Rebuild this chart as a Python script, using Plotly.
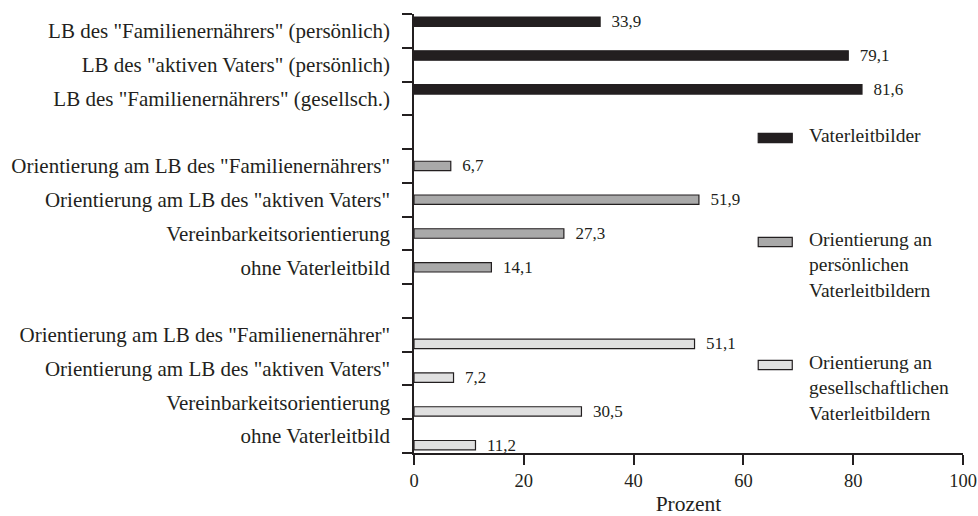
import plotly.graph_objects as go

# ---- data ----
labels = [
    'LB des "Familienernährers" (persönlich)',
    'LB des "aktiven Vaters" (persönlich)',
    'LB des "Familienernährers" (gesellsch.)',
    '',
    'Orientierung am LB des "Familienernährers"',
    'Orientierung am LB des "aktiven Vaters"',
    'Vereinbarkeitsorientierung',
    'ohne Vaterleitbild',
    '',
    'Orientierung am LB des "Familienernährer"',
    'Orientierung am LB des "aktiven Vaters"',
    'Vereinbarkeitsorientierung',
    'ohne Vaterleitbild',
]
pos_leitbilder = [0, 1, 2]
val_leitbilder = [33.9, 79.1, 81.6]
pos_persoenlich = [4, 5, 6, 7]
val_persoenlich = [6.7, 51.9, 27.3, 14.1]
pos_gesellschaft = [9, 10, 11, 12]
val_gesellschaft = [51.1, 7.2, 30.5, 11.2]
series_names = ["Vaterleitbilder",
                "Orientierung an<br>persönlichen<br>Vaterleitbildern",
                "Orientierung an<br>gesellschaftlichen<br>Vaterleitbildern"]
x_ticks = [0, 20, 40, 60, 80, 100]

FONT = "Liberation Serif, Times New Roman, serif"
TXT = "#231f20"
colors = ["#231f20", "#a9a9a9", "#e0e0e0"]
offsets = [-0.41, -0.14, 0.13]
BW = 0.28


def fmt(v):
    return "\u00a0\u00a0" + f"{v:.1f}".replace(".", ",")


fig = go.Figure()
for pos, vals, col, off, name in zip(
        [pos_leitbilder, pos_persoenlich, pos_gesellschaft],
        [val_leitbilder, val_persoenlich, val_gesellschaft],
        colors, offsets, series_names):
    fig.add_trace(go.Bar(
        x=vals, y=pos, orientation="h", name=name,
        offset=off, width=BW,
        marker=dict(color=col, line=dict(color="#231f20", width=1.2)),
        text=[fmt(v) for v in vals], textposition="outside",
        constraintext="none",
        outsidetextfont=dict(family=FONT, size=17, color=TXT),
        textfont=dict(family=FONT, size=17, color=TXT),
        cliponaxis=False, showlegend=False, hoverinfo="x+y",
    ))

fig.update_layout(
    width=978, height=516,
    margin=dict(l=414, r=15, t=14, b=63),
    plot_bgcolor="white", paper_bgcolor="white",
    barmode="overlay",
    font=dict(family=FONT, size=18, color=TXT),
    xaxis=dict(range=[0, 100], tickvals=x_ticks, ticks="outside", ticklen=10,
               tickwidth=1.5, tickcolor=TXT, showline=True, linecolor=TXT,
               linewidth=1.5, showgrid=False, zeroline=False, automargin=False,
               title=dict(text="Prozent", standoff=14, font=dict(size=21.5)),
               tickfont=dict(size=18.5)),
    yaxis=dict(range=[12.5, -0.5], tickmode="array",
               tickvals=list(range(len(labels))), ticktext=labels,
               ticks="outside", ticklen=10, tickcolor="rgba(0,0,0,0)",
               ticklabelstandoff=8, automargin=False,
               showline=True, linecolor=TXT, linewidth=1.5,
               showgrid=False, zeroline=False,
               minor=dict(tickvals=[i - 0.5 for i in range(len(labels) + 1)],
                          ticks="outside", ticklen=10, tickwidth=1.5,
                          tickcolor=TXT, showgrid=False),
               tickfont=dict(size=21)),
)

# manual legend
leg_y = [0.7175, 0.4806, 0.2005]
for col, yc, name in zip(colors, leg_y, series_names):
    fig.add_shape(type="rect", xref="paper", yref="paper",
                  x0=0.627, x1=0.689, y0=yc - 0.0105, y1=yc + 0.0105,
                  fillcolor=col, line=dict(color="#231f20", width=1.2))
    fig.add_annotation(xref="paper", yref="paper", x=0.716, y=yc + 0.034,
                       xanchor="left", yanchor="top", align="left",
                       text=name, showarrow=False,
                       font=dict(family=FONT, size=19.5, color=TXT))

# remove the default page margin so the 978x516 figure fills the window
fig.write_html("out.html", config={"displayModeBar": False},
               post_script="document.body.style.margin='0';")
